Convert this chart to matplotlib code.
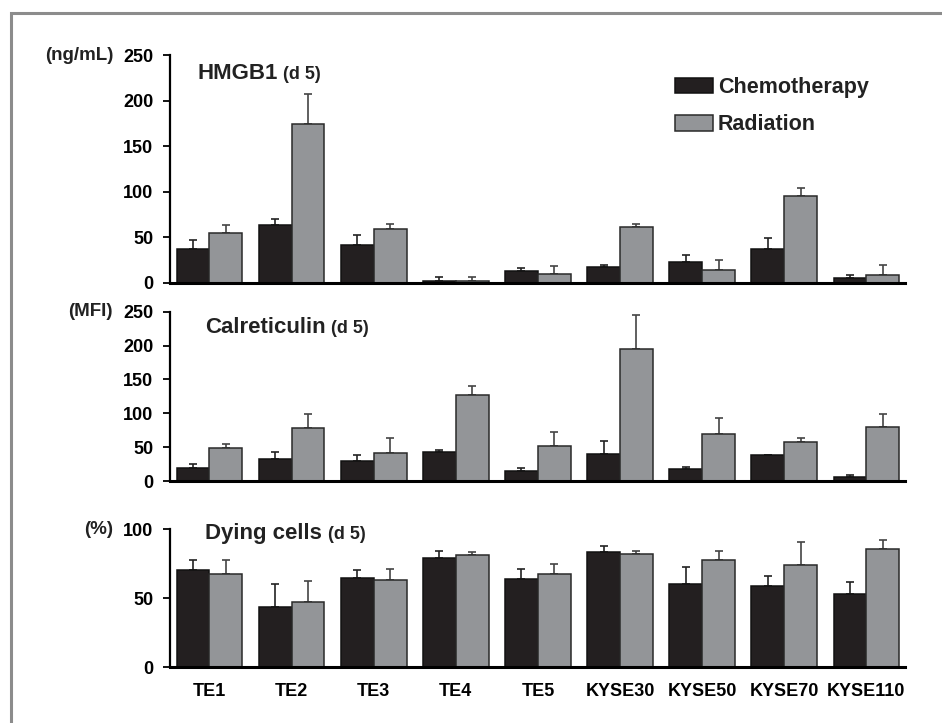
import matplotlib.pyplot as plt
import numpy as np
from matplotlib.patches import Rectangle

plt.rcParams['font.family'] = ['Liberation Sans', 'DejaVu Sans']
plt.rcParams['font.weight'] = 'bold'

cells = ['TE1', 'TE2', 'TE3', 'TE4', 'TE5', 'KYSE30', 'KYSE50', 'KYSE70', 'KYSE110']

# HMGB1 (ng/mL)
hmgb1_chemo = [37, 63.5, 41, 2, 13, 17, 23, 37, 5.5]
hmgb1_chemo_err = [10, 6, 11, 4.5, 3.5, 2.5, 7.5, 12, 2.5]
hmgb1_rad = [55, 174, 59, 2, 9.5, 61, 13.5, 95, 8]
hmgb1_rad_err = [8.5, 33, 5, 4, 9, 3, 11, 9, 11.5]

# Calreticulin (MFI)
calr_chemo = [18.5, 32.5, 30, 43, 15.5, 40, 18, 38, 6.5]
calr_chemo_err = [6.5, 10, 9, 3, 4, 19.5, 3, 0.5, 2.5]
calr_rad = [48, 79, 42, 127, 51, 195, 69.5, 58, 79.5]
calr_rad_err = [6, 20, 21.5, 14, 22, 49.5, 24, 5.5, 20]

# Dying cells (%)
dying_chemo = [70.5, 43.5, 64.5, 79.5, 64, 83.5, 60.5, 59, 53]
dying_chemo_err = [7, 17, 6, 5, 7, 4.5, 12, 7, 9]
dying_rad = [67.5, 47.5, 63.5, 81.5, 67.5, 82, 78, 74, 86]
dying_rad_err = [10, 15, 7.5, 1.8, 7.5, 2.5, 6, 17, 6.5]

chemo_color = '#231f20'
rad_color = '#939598'

W, H = 942, 723
fig = plt.figure(figsize=(W / 100, H / 100), dpi=100)

# grey frame (top and left visible)
fig.add_artist(Rectangle((11 / W, -0.1), 1.2, 1 - 13 / H + 0.1, transform=fig.transFigure,
                         fill=False, edgecolor='#8c8c8c', linewidth=2.2))

left, width = 170 / W, (905 - 170) / W
panels = [
    dict(top=55, bottom=282.7, ymax=250, ticks=[0, 50, 100, 150, 200, 250], unit='(ng/mL)',
         title='HMGB1', tx=0.037, ty=0.895,
         chemo=hmgb1_chemo, ce=hmgb1_chemo_err, rad=hmgb1_rad, re=hmgb1_rad_err),
    dict(top=311.7, bottom=481, ymax=250, ticks=[0, 50, 100, 150, 200, 250], unit='(MFI)',
         title='Calreticulin', tx=0.048, ty=0.875,
         chemo=calr_chemo, ce=calr_chemo_err, rad=calr_rad, re=calr_rad_err),
    dict(top=529.3, bottom=667.3, ymax=100, ticks=[0, 50, 100], unit='(%)',
         title='Dying cells', tx=0.048, ty=0.93,
         chemo=dying_chemo, ce=dying_chemo_err, rad=dying_rad, re=dying_rad_err),
]

x = np.arange(len(cells))
bw = 0.4
axes = []
for k, p in enumerate(panels):
    ax = fig.add_axes([left, 1 - p['bottom'] / H, width, (p['bottom'] - p['top']) / H])
    axes.append(ax)
    zeros = np.zeros(len(cells))
    b1 = ax.bar(x - bw / 2, p['chemo'], bw, color=chemo_color, edgecolor='#111111',
                linewidth=1.1, label='Chemotherapy', zorder=2)
    b2 = ax.bar(x + bw / 2, p['rad'], bw, color=rad_color, edgecolor='#2a2a2a',
                linewidth=1.1, label='Radiation', zorder=2)
    ax.errorbar(x - bw / 2, p['chemo'], yerr=[zeros, p['ce']], fmt='none', ecolor='#222222',
                elinewidth=1.2, capsize=3, capthick=1.2, zorder=1)
    ax.errorbar(x + bw / 2, p['rad'], yerr=[zeros, p['re']], fmt='none', ecolor='#444444',
                elinewidth=1.2, capsize=3, capthick=1.2, zorder=1)

    ax.set_xlim(-0.48, 8.47)
    ax.set_ylim(0, p['ymax'])
    ax.set_yticks(p['ticks'])
    ax.spines['top'].set_visible(False)
    ax.spines['right'].set_visible(False)
    ax.spines['left'].set_linewidth(1.6)
    ax.spines['bottom'].set_linewidth(2.2)
    ax.tick_params(axis='y', length=5, width=1.3, pad=7, labelsize=13)
    ax.tick_params(axis='x', length=0, pad=11, labelsize=13)
    if k < 2:
        ax.set_xticks([])
    else:
        ax.set_xticks(x)
        ax.set_xticklabels(cells)

    fig.text(113 / W, 1 - p['top'] / H, p['unit'], ha='right', va='center', fontsize=13.5,
             fontweight='bold', color='#222222')

    t = ax.text(p['tx'], p['ty'], p['title'], transform=ax.transAxes, fontsize=16,
                fontweight='bold', ha='left', va='baseline', color='#222222')
    ax.annotate('(d 5)', xy=(1, p['ty']), xycoords=(t, 'axes fraction'),
                xytext=(4, 0), textcoords='offset points', fontsize=13,
                fontweight='bold', ha='left', va='baseline', color='#222222')

leg = axes[0].legend(loc='upper left', bbox_to_anchor=(675 / W, 1 - 77 / H),
                     bbox_transform=fig.transFigure, frameon=False, fontsize=15.5,
                     handlelength=1.75, handleheight=0.75, handletextpad=0.25,
                     labelspacing=0.75, borderpad=0, borderaxespad=0)
for txt in leg.get_texts():
    txt.set_color('#222222')

fig.savefig('out.png', dpi=100)
